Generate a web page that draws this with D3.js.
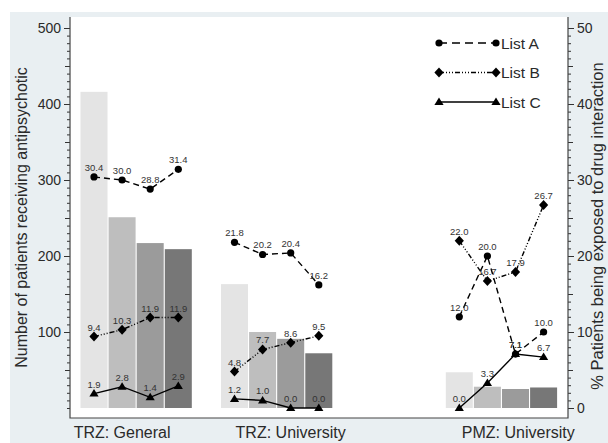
<!DOCTYPE html>
<html><head><meta charset="utf-8">
<script src="https://cdn.jsdelivr.net/npm/d3@7"></script>
<style>body{margin:0;background:#fff}svg{display:block;font-family:"Liberation Sans",Arial,Helvetica,sans-serif}</style>
</head><body><svg id="c" width="608" height="443"></svg>
<script>
const categories = ["TRZ: General", "TRZ: University", "PMZ: University"];
const barValues = [[416, 251, 217, 209], [163, 100, 91, 72], [47, 28, 25, 27]];
const listA = [[30.4, 30.0, 28.8, 31.4], [21.8, 20.2, 20.4, 16.2], [12.0, 20.0, 7.1, 10.0]];
const listB = [[9.4, 10.3, 11.9, 11.9], [4.8, 7.7, 8.6, 9.5], [22.0, 16.7, 17.9, 26.7]];
const listC = [[1.9, 2.8, 1.4, 2.9], [1.2, 1.0, 0.0, 0.0], [0.0, 3.3, 7.1, 6.7]];
const seriesNames = ["List A", "List B", "List C"];
const leftTicks = [100, 200, 300, 400, 500];
const rightTicks = [0, 10, 20, 30, 40, 50];
const leftTitle = "Number of patients receiving antipsychotic";
const rightTitle = "% Patients being exposed to drug interaction";

// layout
const groupStart = [1, 6, 14];
const labelPos = [2, 8, 16.1];
const barColors = ["#e4e4e4", "#bebebe", "#9b9b9b", "#777777"];
const plot = {l: 70, r: 568, t: 17, b: 418};
const svg = d3.select("#c");
svg.append("rect").attr("x", 10).attr("y", 12).attr("width", 598).attr("height", 431).attr("fill", "#e9eff2");
svg.append("rect").attr("x", plot.l).attr("y", plot.t).attr("width", plot.r - plot.l).attr("height", plot.b - plot.t).attr("fill", "#fff");

const x = d3.scaleLinear().domain([1, 17]).range([94, 543.6]);
const yL = d3.scaleLinear().domain([0, 500]).range([408, 28]);
const yR = d3.scaleLinear().domain([0, 50]).range([408, 28]);
const bw = 27;
const txt = "#2a2a2a";

// bars
barValues.forEach((g, gi) => {
  svg.append("g").selectAll("rect").data(g).join("rect")
    .attr("x", (d, i) => x(groupStart[gi] + i) - bw / 2)
    .attr("width", bw)
    .attr("y", d => yL(d))
    .attr("height", d => yL(0) - yL(d))
    .attr("fill", (d, i) => barColors[i]);
});

// axes
function addAxis(axisFn, scale, vals, size, labels, xpos) {
  const ax = axisFn(scale).tickValues(vals).tickSize(size).tickPadding(3);
  if (!labels) ax.tickFormat("");
  const g = svg.append("g").attr("transform", `translate(${xpos},0)`).call(ax);
  g.select(".domain").remove();
  g.selectAll("line").attr("stroke", "#333");
  g.selectAll("text").attr("fill", txt).style("font-size", "14px").style("font-family", "inherit");
  return g;
}
addAxis(d3.axisLeft, yL, d3.range(0, 501, 10).filter(v => v % 50), 3, false, plot.l);
addAxis(d3.axisLeft, yL, d3.range(0, 501, 50).filter(v => v % 100), 5, false, plot.l);
addAxis(d3.axisLeft, yL, [0], 3, false, plot.l);
addAxis(d3.axisLeft, yL, leftTicks, 6, true, plot.l);
addAxis(d3.axisRight, yR, d3.range(0, 51, 1).filter(v => v % 5), 3, false, plot.r);
addAxis(d3.axisRight, yR, d3.range(0, 51, 5).filter(v => v % 10), 5, false, plot.r);
addAxis(d3.axisRight, yR, rightTicks, 6, true, plot.r);

svg.append("path").attr("d", `M${plot.l},${plot.t}V${plot.b}H${plot.r}V${plot.t}`)
  .attr("fill", "none").attr("stroke", "#444").attr("stroke-width", 1.2);

// category labels
svg.append("g").selectAll("text").data(categories).join("text")
  .attr("x", (d, i) => x(labelPos[i])).attr("y", 438)
  .attr("text-anchor", "middle").attr("fill", txt).style("font-size", "16px").text(d => d);

// titles
svg.append("text").attr("transform", `translate(27,${(plot.t + plot.b) / 2}) rotate(-90)`)
  .attr("text-anchor", "middle").attr("fill", txt).style("font-size", "16px").text(leftTitle);
svg.append("text").attr("transform", `translate(603,226) rotate(-90)`)
  .attr("text-anchor", "middle").attr("fill", txt).style("font-size", "16.5px").text(rightTitle);

// markers
const markers = [
  (g, px, py) => g.append("circle").attr("cx", px).attr("cy", py).attr("r", 3.6),
  (g, px, py) => g.append("path").attr("d", `M${px},${py - 5}L${px + 4.6},${py}L${px},${py + 5}L${px - 4.6},${py}Z`),
  (g, px, py) => g.append("path").attr("d", `M${px},${py - 4.5}L${px + 4.6},${py + 3}L${px - 4.6},${py + 3}Z`)
];
const dashes = ["6,4", "5,2,1,2,1,2,1,2", null];
const series = [listA, listB, listC];

series.forEach((s, si) => {
  const g = svg.append("g");
  s.forEach((grp, gi) => {
    const pts = grp.map((v, i) => [x(groupStart[gi] + i), yR(v), v]);
    g.append("path").attr("d", d3.line()(pts.map(p => [p[0], p[1]])))
      .attr("fill", "none").attr("stroke", "#000").attr("stroke-width", 1.4)
      .attr("stroke-dasharray", dashes[si]);
    pts.forEach(p => {
      markers[si](g, p[0], p[1]).attr("fill", "#000");
      g.append("text").attr("x", p[0]).attr("y", p[1] - 6).attr("text-anchor", "middle")
        .attr("fill", "#333").style("font-size", "9.5px").text(p[2].toFixed(1));
    });
  });
});

// legend
const lg = svg.append("g");
seriesNames.forEach((n, i) => {
  const ly = 43 + i * 29.5;
  lg.append("line").attr("x1", 439).attr("x2", 496).attr("y1", ly).attr("y2", ly)
    .attr("stroke", "#000").attr("stroke-width", 1.4).attr("stroke-dasharray", i === 0 ? "8,5" : dashes[i]);
  markers[i](lg, 439, ly).attr("fill", "#000");
  markers[i](lg, 496, ly).attr("fill", "#000");
  lg.append("text").attr("x", 501).attr("y", ly + 5.5).attr("fill", txt).style("font-size", "15.5px").text(n);
});
</script></body></html>
